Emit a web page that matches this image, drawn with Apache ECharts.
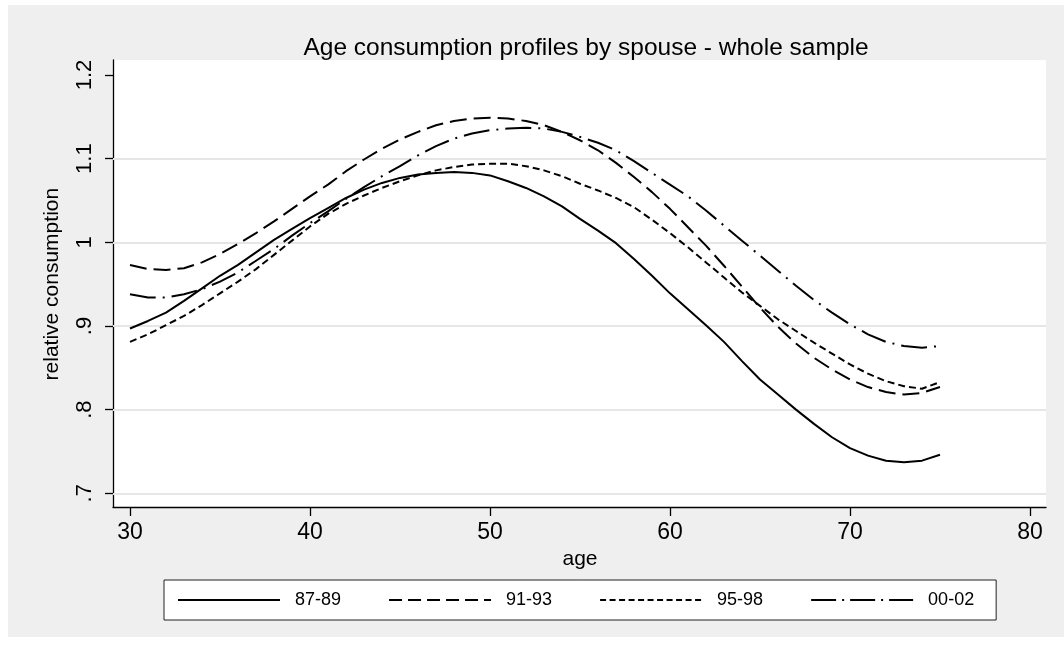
<!DOCTYPE html>
<html>
<head>
<meta charset="utf-8">
<script src="https://cdn.jsdelivr.net/npm/echarts@6/dist/echarts.min.js"></script>
<style>
  html, body { margin: 0; padding: 0; background: #ffffff; }
  #bg { position: absolute; left: 8px; top: 5px; width: 1056px; height: 632px; background: #efefef; }
  #chart { position: absolute; left: 0; top: 0; width: 1064px; height: 645px; }
</style>
</head>
<body>
<div id="bg"></div>
<div id="chart"></div>
<script>
const titleText = 'Age consumption profiles by spouse - whole sample';
const xName = 'age';
const yName = 'relative consumption';
const seriesNames = ['87-89', '91-93', '95-98', '00-02'];
const ages = [30,31,32,33,34,35,36,37,38,39,40,41,42,43,44,45,46,47,48,49,50,51,52,53,54,55,56,57,58,59,60,61,62,63,64,65,66,67,68,69,70,71,72,73,74,75];
const s8789 = [0.897,0.906,0.916,0.930,0.945,0.960,0.973,0.988,1.003,1.016,1.029,1.041,1.053,1.063,1.071,1.077,1.081,1.083,1.084,1.083,1.080,1.073,1.065,1.055,1.043,1.028,1.014,0.999,0.980,0.960,0.939,0.920,0.901,0.881,0.858,0.836,0.818,0.800,0.783,0.767,0.754,0.745,0.739,0.737,0.739,0.746];
const s9193 = [0.973,0.968,0.967,0.969,0.976,0.986,0.998,1.011,1.025,1.040,1.055,1.069,1.085,1.099,1.112,1.123,1.132,1.140,1.145,1.148,1.149,1.148,1.145,1.140,1.132,1.122,1.110,1.095,1.078,1.060,1.040,1.018,0.996,0.972,0.947,0.922,0.899,0.879,0.862,0.848,0.836,0.827,0.821,0.818,0.820,0.827];
const s9598 = [0.881,0.890,0.901,0.912,0.925,0.939,0.953,0.968,0.985,1.002,1.019,1.034,1.046,1.056,1.065,1.073,1.080,1.086,1.090,1.093,1.094,1.094,1.091,1.086,1.079,1.070,1.062,1.053,1.042,1.027,1.011,0.994,0.976,0.958,0.940,0.924,0.908,0.894,0.880,0.867,0.854,0.843,0.834,0.828,0.825,0.833];
const s0002 = [0.938,0.934,0.934,0.938,0.944,0.953,0.964,0.978,0.992,1.008,1.023,1.037,1.052,1.066,1.079,1.091,1.104,1.115,1.124,1.130,1.134,1.136,1.137,1.136,1.132,1.126,1.119,1.110,1.097,1.083,1.069,1.055,1.038,1.020,1.002,0.984,0.966,0.948,0.931,0.916,0.902,0.890,0.881,0.876,0.874,0.876];
const xTickValues = [30,40,50,60,70,80];
const yTickValues = [0.7,0.8,0.9,1.0,1.1,1.2];
const yTickLabels = ['.7','.8','.9','1','1.1','1.2'];

const allSeries = [s8789, s9193, s9598, s0002];
const dashTypes = ['solid', [17, 7], [7, 4], [26, 7, 2, 7]];
const legendDashTypes = ['solid', [13, 6], [6, 3.5], [25, 6, 2, 6]];

// plot-region geometry (pixels)
const plotL = 113, plotT = 60, plotR = 1046, plotB = 507;
const pxPerYear = 18;          // 10 years = 180 px
const yTop = 75, yBot = 493.3; // pixel rows of 1.2 and .7
const pxPerUnit = (yBot - yTop) / 0.5;

const xMinOuter = 30 - (130 - plotL) / pxPerYear;
const xMaxOuter = 80 + (plotR - 1030) / pxPerYear;
const yMinOuter = 0.7 - (plotB - yBot) / pxPerUnit;
const yMaxOuter = 1.2 + (yTop - plotT) / pxPerUnit;

const chart = echarts.init(document.getElementById('chart'));
const fontFam = '"Liberation Sans", Arial, sans-serif';

const option = {
  animation: false,
  backgroundColor: 'transparent',
  textStyle: { fontFamily: fontFam, color: '#000' },
  title: {
    text: titleText,
    left: 581, top: 31, textAlign: 'center',
    textStyle: { fontFamily: fontFam, fontSize: 24.5, fontWeight: 'normal', color: '#000' }
  },
  legend: {
    left: 164, top: 580,
    orient: 'horizontal',
    data: seriesNames.map(function (n, k) {
      return { name: n, lineStyle: { type: legendDashTypes[k], width: 2, color: '#000' } };
    }),
    itemWidth: 102, itemHeight: 14, itemGap: 47,
    padding: [11, 22, 11, 13],
    backgroundColor: '#fff',
    borderColor: '#222', borderWidth: 1, borderRadius: 0,
    lineStyle: { width: 2 },
    itemStyle: { color: 'rgba(0,0,0,0)', borderColor: 'rgba(0,0,0,0)', borderWidth: 0 },
    textStyle: { fontFamily: fontFam, fontSize: 18, color: '#000', padding: [0, 0, 0, 10] }
  },
  grid: [
    { left: plotL, top: plotT, width: plotR - plotL, height: plotB - plotT, show: true, backgroundColor: '#fff', borderWidth: 0, z: -1 },
    { left: plotL, top: yTop, width: plotR - plotL, height: yBot - yTop, show: false },
    { left: 130, top: plotT, width: 900, height: plotB - plotT, show: false }
  ],
  xAxis: [
    { gridIndex: 0, type: 'value', min: xMinOuter, max: xMaxOuter,
      axisLine: { show: true, onZero: false, lineStyle: { color: '#000', width: 1.3 } },
      axisTick: { show: false }, axisLabel: { show: false }, splitLine: { show: false } },
    { gridIndex: 1, type: 'value', min: xMinOuter, max: xMaxOuter, show: false },
    { gridIndex: 2, type: 'value', min: 30, max: 80, interval: 10, position: 'bottom',
      name: xName, nameLocation: 'middle', nameGap: 40,
      nameTextStyle: { fontFamily: fontFam, fontSize: 21, color: '#000' },
      axisLine: { show: false },
      axisTick: { show: true, length: 9, lineStyle: { color: '#000', width: 1.3 } },
      axisLabel: { show: true, margin: 14, fontFamily: fontFam, fontSize: 23, color: '#000' },
      splitLine: { show: false } }
  ],
  yAxis: [
    { gridIndex: 0, type: 'value', min: yMinOuter, max: yMaxOuter,
      axisLine: { show: true, onZero: false, lineStyle: { color: '#000', width: 1.3 } },
      axisTick: { show: false }, axisLabel: { show: false }, splitLine: { show: false } },
    { gridIndex: 1, type: 'value', min: 0.7, max: 1.2, interval: 0.1, z: 1,
      name: yName, nameLocation: 'middle', nameGap: 50, nameRotate: 90,
      nameTextStyle: { fontFamily: fontFam, fontSize: 21, color: '#000' },
      axisLine: { show: false },
      axisTick: { show: true, length: 8, lineStyle: { color: '#000', width: 1.3 } },
      axisLabel: { show: true, rotate: 90, margin: 17, fontFamily: fontFam, fontSize: 22, color: '#000',
        formatter: function (v) {
          for (let i = 0; i < yTickValues.length; i++) {
            if (Math.abs(yTickValues[i] - v) < 1e-6) return yTickLabels[i];
          }
          return '';
        } },
      splitLine: { show: true, showMaxLine: false,
        lineStyle: { color: ['#e6e6e6','#e6e6e6','#e6e6e6','#e6e6e6','#e6e6e6','rgba(0,0,0,0)'], width: 2 } } },
    { gridIndex: 2, type: 'value', min: yMinOuter, max: yMaxOuter, show: false }
  ],
  series: allSeries.map(function (vals, k) {
    return {
      name: seriesNames[k],
      type: 'line',
      xAxisIndex: 0, yAxisIndex: 0,
      symbol: 'none', showSymbol: false,
      smooth: false,
      data: ages.map(function (a, i) { return [a, vals[i]]; }),
      lineStyle: { color: '#000', width: 2, type: dashTypes[k] },
      itemStyle: { color: '#000' },
      z: 3
    };
  })
};
chart.setOption(option);
</script>
</body>
</html>
